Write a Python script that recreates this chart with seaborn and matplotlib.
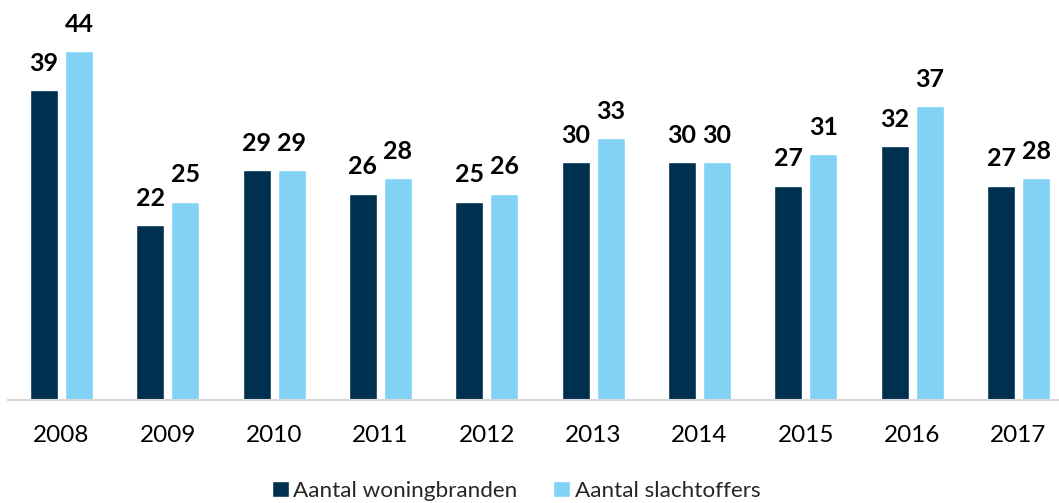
import matplotlib
matplotlib.use("Agg")
import matplotlib.pyplot as plt
import seaborn as sns
import pandas as pd
from matplotlib.patches import Patch

years = ["2008", "2009", "2010", "2011", "2012", "2013", "2014", "2015", "2016", "2017"]
woningbranden = [39, 22, 29, 26, 25, 30, 30, 27, 32, 27]
slachtoffers = [44, 25, 29, 28, 26, 33, 30, 31, 37, 28]
series_names = ["Aantal woningbranden", "Aantal slachtoffers"]
colors = ["#00304F", "#82D2F5"]

df = pd.DataFrame({
    "year": years * 2,
    "value": woningbranden + slachtoffers,
    "series": [series_names[0]] * len(years) + [series_names[1]] * len(years),
})

sns.set_theme(style="white")
plt.rcParams["font.family"] = ["Lato", "DejaVu Sans"]

W, H = 1059, 503
fig = plt.figure(figsize=(W / 100, H / 100), dpi=100)
left = 8.3 / W
right = 1071.7 / W
ax = fig.add_axes([left, (H - 400) / H, right - left, 400 / H])

sns.barplot(data=df, x="year", y="value", hue="series", palette=colors,
            width=0.658, gap=0.2, ax=ax, legend=False, saturation=1)

ax.set_xlim(-0.5, len(years) - 0.5)
ax.set_ylim(0, 50.4)
for c in ax.containers:
    ax.bar_label(c, padding=11, fontsize=18, fontweight="bold", color="black")

ax.set_xlabel("")
ax.set_ylabel("")
ax.set_yticks([])
ax.tick_params(axis="x", length=0, labelsize=17.5, pad=18, colors="black")
for s in ["top", "right", "left"]:
    ax.spines[s].set_visible(False)
ax.spines["bottom"].set_color("#d9d9d9")
ax.spines["bottom"].set_linewidth(1.5)

handles = [Patch(facecolor=colors[0]), Patch(facecolor=colors[1])]
fig.legend(handles, series_names, loc="center", bbox_to_anchor=(516 / W, 1 - 491 / H),
           ncol=2, frameon=False, fontsize=16.2, handlelength=0.75, handleheight=0.75,
           handletextpad=0.2, columnspacing=1.6, borderpad=0, borderaxespad=0)

fig.savefig("out.png", dpi=100)
